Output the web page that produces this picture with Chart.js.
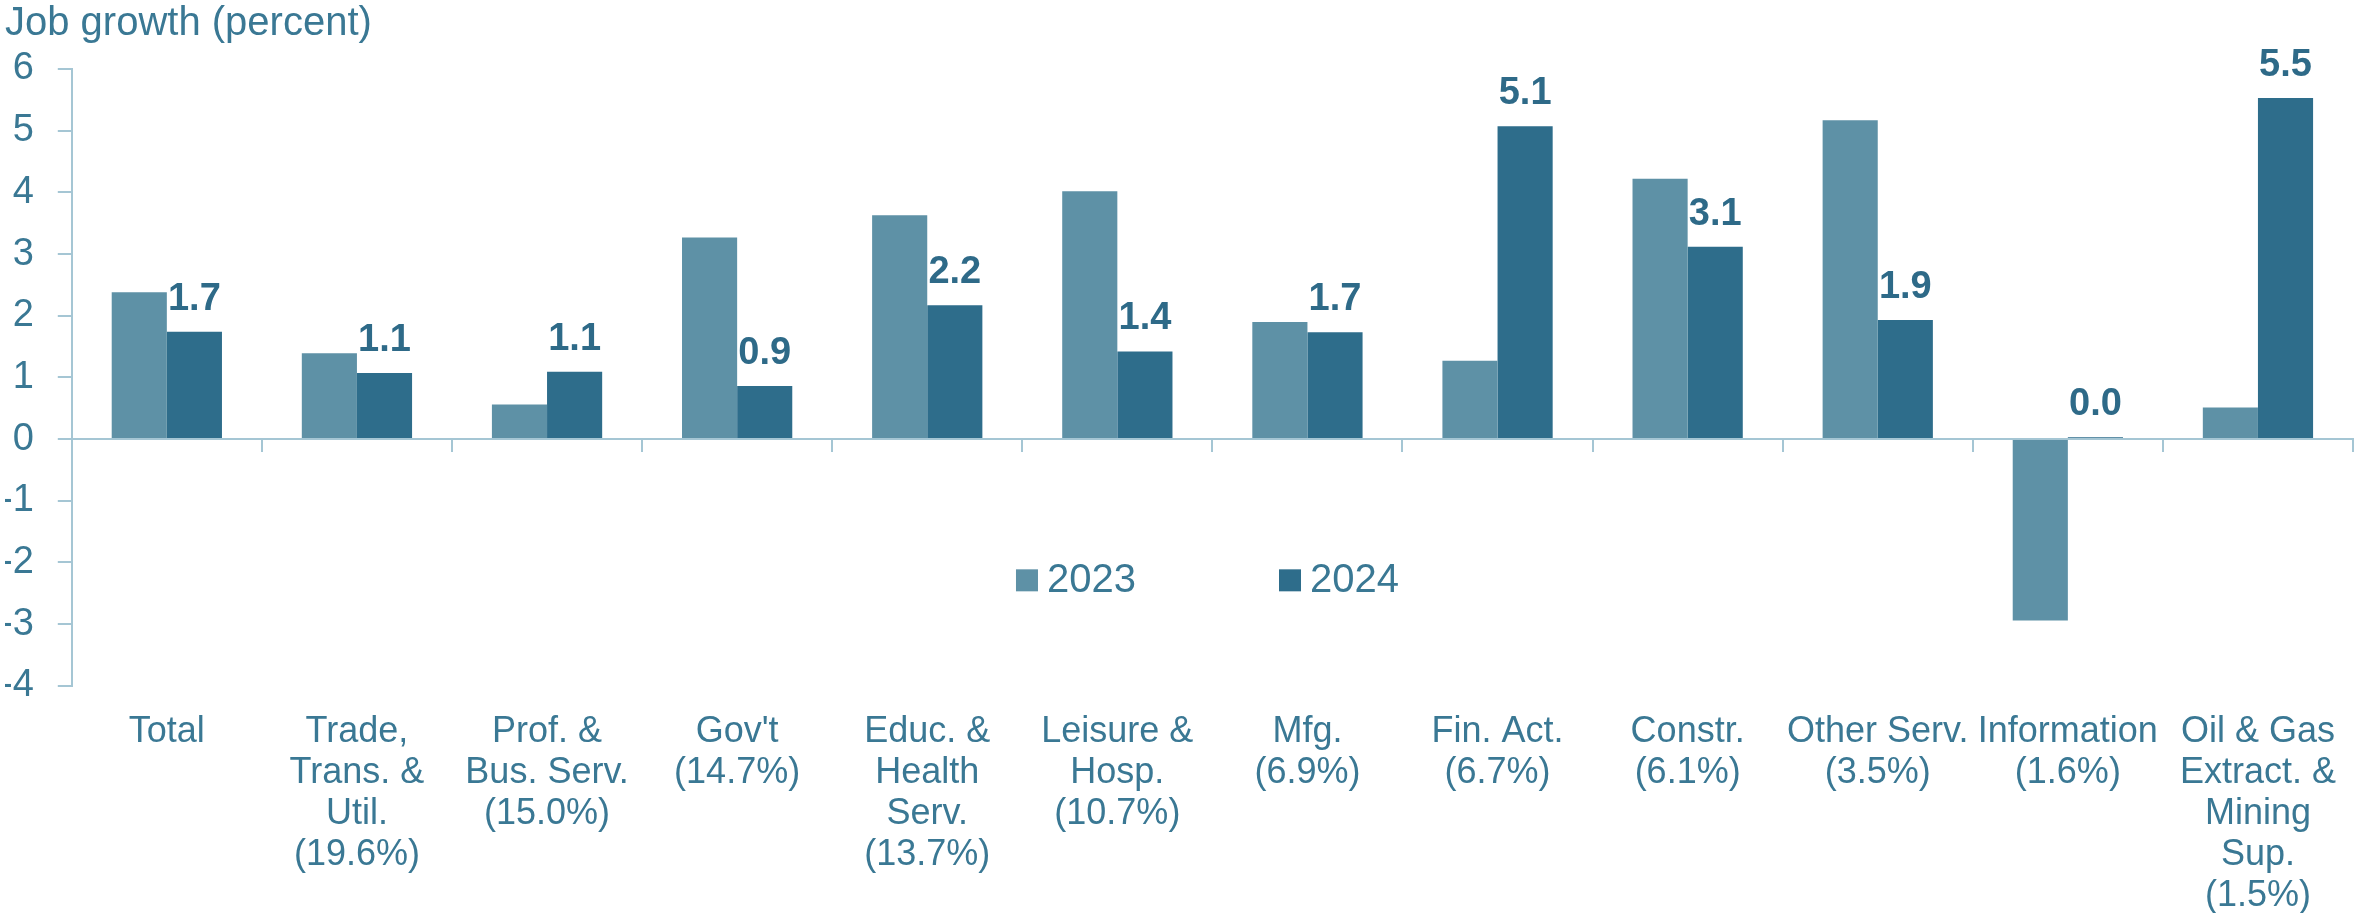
<!DOCTYPE html>
<html lang="en">
<head>
  <meta charset="UTF-8">
  <title>Job growth by industry</title>
  <script src="https://cdn.jsdelivr.net/npm/chart.js"></script>
  <style>
    html, body { margin: 0; padding: 0; background: #fff; }
    #wrap { width: 2356px; height: 913px; }
  </style>
</head>
<body>
  <div id="wrap"><canvas id="myChart"></canvas></div>

  <script>
    const categories = [
      ['Total'],
      ['Trade,', 'Trans. &', 'Util.', '(19.6%)'],
      ['Prof. &', 'Bus. Serv.', '(15.0%)'],
      ["Gov't", '(14.7%)'],
      ['Educ. &', 'Health', 'Serv.', '(13.7%)'],
      ['Leisure &', 'Hosp.', '(10.7%)'],
      ['Mfg.', '(6.9%)'],
      ['Fin. Act.', '(6.7%)'],
      ['Constr.', '(6.1%)'],
      ['Other Serv.', '(3.5%)'],
      ['Information', '(1.6%)'],
      ['Oil & Gas', 'Extract. &', 'Mining', 'Sup.', '(1.5%)']
    ];
    const growth2023 = [2.38, 1.39, 0.56, 3.27, 3.63, 4.02, 1.90, 1.27, 4.22, 5.17, -2.94, 0.51];
    const growth2024 = [1.74, 1.07, 1.09, 0.86, 2.17, 1.42, 1.73, 5.07, 3.12, 1.93, 0.03, 5.53];
    const yTicks = [-4, 6];

    const FONT = "'Liberation Sans', Arial, sans-serif";
    const TEXT = '#3a7894';
    const AXIS = '#a5c6d4';
    const C2023 = '#5e91a6';
    const C2024 = '#2e6d8b';

    // value labels above the 2024 bars
    const barLabels = {
      id: 'barLabels',
      afterDatasetsDraw(chart) {
        const ctx = chart.ctx;
        const meta = chart.getDatasetMeta(1);
        ctx.save();
        ctx.font = 'bold 38px ' + FONT;
        ctx.fillStyle = '#2e6a88';
        ctx.textAlign = 'center';
        ctx.textBaseline = 'alphabetic';
        meta.data.forEach((bar, i) => {
          const v = growth2024[i];
          ctx.fillText(v.toFixed(1), bar.x, Math.min(bar.y, bar.base) - 22);
        });
        ctx.restore();
      }
    };

    // legend sitting inside the plot area
    const innerLegend = {
      id: 'innerLegend',
      afterDraw(chart) {
        const a = chart.chartArea;
        const ctx = chart.ctx;
        const items = [['2023', C2023, 0.4139], ['2024', C2024, 0.5292]];
        const cy = a.top + (a.bottom - a.top) * 0.829;
        ctx.save();
        ctx.font = '40px ' + FONT;
        ctx.textBaseline = 'middle';
        items.forEach(([txt, col, fx]) => {
          const x = a.left + (a.right - a.left) * fx;
          ctx.fillStyle = col;
          ctx.fillRect(x, cy - 11, 22, 22);
          ctx.fillStyle = TEXT;
          ctx.fillText(txt, x + 31, cy + 1);
        });
        ctx.restore();
      }
    };

    const ctx = document.getElementById('myChart');

    new Chart(ctx, {
      type: 'bar',
      data: {
        labels: categories,
        datasets: [
          {
            label: '2023',
            data: growth2023,
            backgroundColor: C2023,
            xAxisID: 'x',
            categoryPercentage: 0.58,
            barPercentage: 1.0
          },
          {
            label: '2024',
            data: growth2024,
            backgroundColor: C2024,
            xAxisID: 'x',
            categoryPercentage: 0.58,
            barPercentage: 1.0
          }
        ]
      },
      options: {
        responsive: true,
        maintainAspectRatio: false,
        devicePixelRatio: 1,
        animation: false,
        layout: { padding: { left: 5, right: 3, top: 0, bottom: 0 } },
        plugins: {
          legend: { display: false },
          tooltip: { enabled: false },
          title: {
            display: true,
            text: 'Job growth (percent)',
            align: 'start',
            color: TEXT,
            font: { family: FONT, size: 40, weight: 'normal' },
            padding: { top: 0, bottom: 21 }
          }
        },
        scales: {
          // zero line with category tick marks
          x: {
            position: { y: 0 },
            offset: true,
            grid: {
              offset: true,
              drawOnChartArea: false,
              drawTicks: true,
              tickLength: 12,
              color: AXIS,
              lineWidth: 2
            },
            border: { display: true, color: AXIS, width: 2 },
            ticks: { display: false }
          },
          // category names under the plot
          x2: {
            type: 'category',
            position: 'bottom',
            offset: true,
            grid: { display: false, drawTicks: false },
            border: { display: false },
            ticks: {
              color: TEXT,
              font: { family: FONT, size: 36, lineHeight: 1.14 },
              padding: 26,
              maxRotation: 0,
              minRotation: 0,
              autoSkip: false
            },
            // chart.js reserves the tick padding twice; trim it
            afterFit(scale) {
              scale.height -= scale.options.ticks.padding + 4;
              scale.paddingRight = 0;
            }
          },
          y: {
            min: yTicks[0],
            max: yTicks[1],
            grid: {
              drawOnChartArea: false,
              tickLength: 14,
              color: AXIS,
              lineWidth: 2
            },
            border: { display: true, color: AXIS, width: 2 },
            ticks: {
              stepSize: 1,
              color: TEXT,
              padding: 24,
              font: { family: FONT, size: 38 }
            },
            afterFit(scale) {
              scale.width -= scale.options.ticks.padding + 5;
            }
          }
        }
      },
      plugins: [barLabels, innerLegend]
    });
  </script>
</body>
</html>
